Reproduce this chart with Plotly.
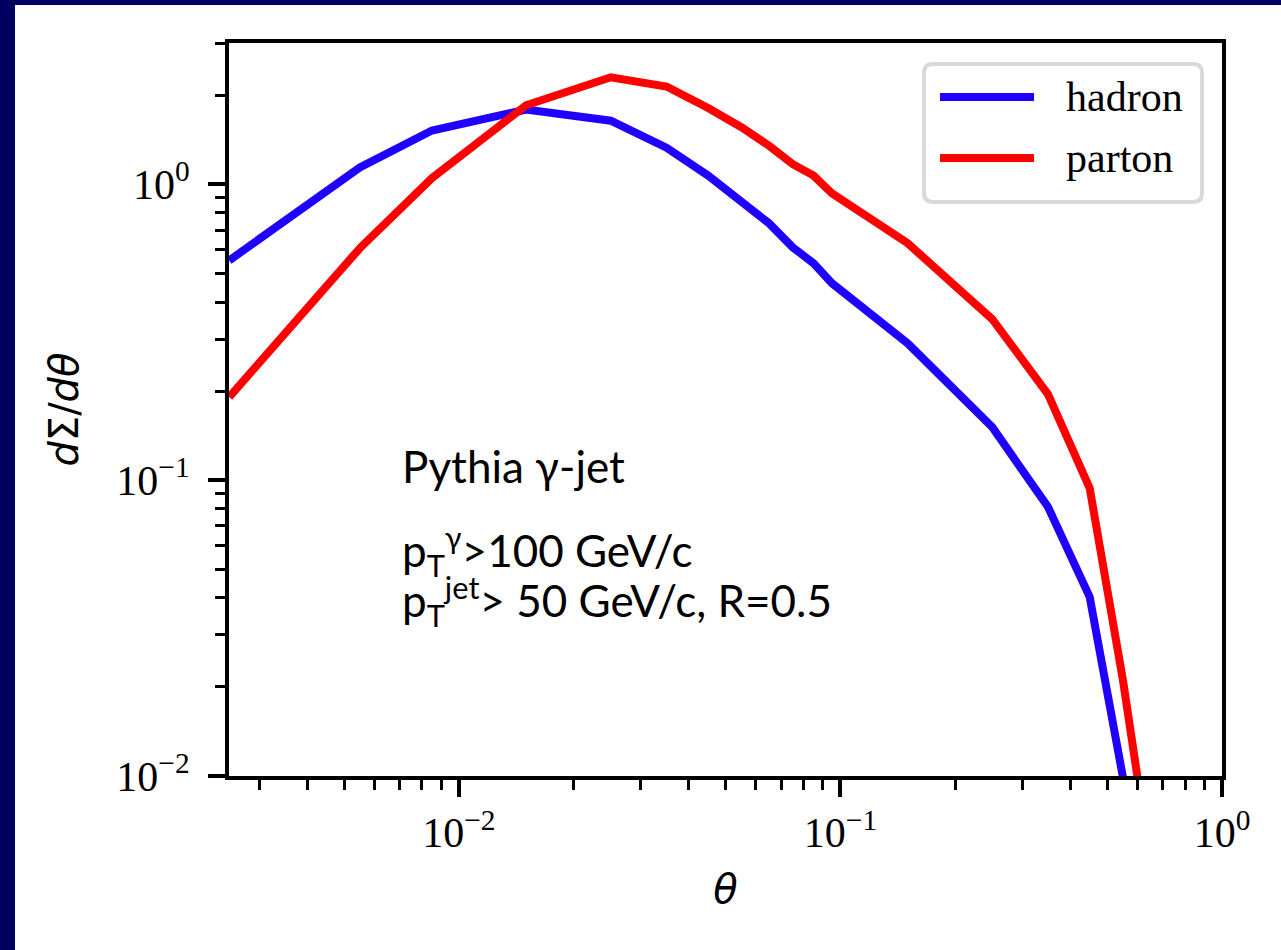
import plotly.graph_objects as go
import math

# ---------------- data ----------------
theta = [0.0025, 0.0055, 0.0085, 0.015, 0.025, 0.035, 0.045, 0.055, 0.065,
         0.075, 0.085, 0.095, 0.15, 0.25, 0.35, 0.45, 0.55, 0.65]
hadron = [0.553, 1.14, 1.52, 1.79, 1.64, 1.33, 1.07, 0.869, 0.738,
          0.612, 0.541, 0.463, 0.290, 0.151, 0.0811, 0.0403, 0.0099, 0.002]
parton = [0.191, 0.608, 1.05, 1.85, 2.30, 2.14, 1.81, 1.56, 1.35,
          1.17, 1.07, 0.932, 0.632, 0.350, 0.195, 0.094, 0.0211, 0.005]
series_names = ["hadron", "parton"]
series_colors = ["#1f00ff", "#ff0000"]

x_major = [0.01, 0.1, 1.0]
x_major_text = ["10<sup>\u22122</sup>", "10<sup>\u22121</sup>", "10<sup>0</sup>"]
y_major = [0.01, 0.1, 1.0]
y_major_text = ["10<sup>\u22122</sup>", "10<sup>\u22121</sup>", "10<sup>0</sup>"]

info_lines = ["Pythia \u03b3-jet",
              "p<sub>T</sub><sup>\u03b3</sup>>100 GeV/c",
              "p<sub>T</sub><sup>jet</sup>> 50 GeV/c, R=0.5"]

# ---------------- layout geometry (pixels) ----------------
W, H = 1281, 950
L, R, T, B = 229, 1222, 43, 776
NAVY = "#00005f"

def px(x):
    return (x - L) / (R - L)

def py(y):
    return (B - y) / (B - T)

x_minor = [k * 10.0 ** e for e in (-3, -2, -1) for k in range(2, 10)]
x_minor = [v for v in x_minor if v > 0.0025]
y_minor = [k * 10.0 ** e for e in (-2, -1, 0) for k in range(2, 10)]
y_minor = [v for v in y_minor if v <= 3.0]

fig = go.Figure()
for name, vals, col in zip(series_names, [hadron, parton], series_colors):
    fig.add_trace(go.Scatter(x=theta, y=vals, mode="lines", name=name,
                             line=dict(color=col, width=8), showlegend=False))

tickfont = dict(family="Liberation Serif, Times New Roman, serif", size=42, color="black")

fig.update_xaxes(type="log", range=[math.log10(0.0025) - 0.0005, 0],
                 showgrid=False, zeroline=False,
                 showline=True, linecolor="black", linewidth=4, mirror=True,
                 ticks="outside", ticklen=17, tickwidth=3.5, tickcolor="black",
                 tickvals=x_major, ticktext=x_major_text, tickfont=tickfont,
                 minor=dict(tickvals=x_minor, ticks="outside", ticklen=10,
                            tickwidth=2.5, tickcolor="black", showgrid=False),
                 title=dict(text="<i>\u03b8</i>", standoff=21,
                            font=dict(family="DejaVu Sans", size=40, color="black")))
fig.update_yaxes(type="log", range=[-2, math.log10(3.0) + 0.0005],
                 showgrid=False, zeroline=False,
                 showline=True, linecolor="black", linewidth=4, mirror=True,
                 ticks="outside", ticklen=17, tickwidth=3.5, tickcolor="black",
                 tickvals=y_major, ticktext=y_major_text, tickfont=tickfont,
                 ticklabelstandoff=10,
                 minor=dict(tickvals=y_minor, ticks="outside", ticklen=10,
                            tickwidth=2.5, tickcolor="black", showgrid=False),
                 title=dict(text="<i>d</i>\u03a3/<i>d\u03b8</i>", standoff=26,
                            font=dict(family="DejaVu Sans", size=40, color="black")))

shapes = []
# slide background strips
shapes.append(dict(type="rect", xref="paper", yref="paper", layer="below",
                   x0=px(0), x1=px(15), y0=py(H), y1=py(0),
                   fillcolor=NAVY, line=dict(width=0)))
shapes.append(dict(type="rect", xref="paper", yref="paper", layer="below",
                   x0=px(0), x1=px(W), y0=py(5), y1=py(0),
                   fillcolor=NAVY, line=dict(width=0)))

# legend box with rounded corners
lx0, lx1, ly0, ly1, rr = 924, 1202, 64, 202, 9
path = (f"M {px(lx0+rr)},{py(ly0)} L {px(lx1-rr)},{py(ly0)} "
        f"Q {px(lx1)},{py(ly0)} {px(lx1)},{py(ly0+rr)} "
        f"L {px(lx1)},{py(ly1-rr)} Q {px(lx1)},{py(ly1)} {px(lx1-rr)},{py(ly1)} "
        f"L {px(lx0+rr)},{py(ly1)} Q {px(lx0)},{py(ly1)} {px(lx0)},{py(ly1-rr)} "
        f"L {px(lx0)},{py(ly0+rr)} Q {px(lx0)},{py(ly0)} {px(lx0+rr)},{py(ly0)} Z")
shapes.append(dict(type="path", xref="paper", yref="paper", path=path,
                   fillcolor="white", line=dict(color="#d9d9d9", width=4)))
legend_rows = [97, 158]
annotations = []
for name, col, yy in zip(series_names, series_colors, legend_rows):
    shapes.append(dict(type="line", xref="paper", yref="paper",
                       x0=px(940), x1=px(1034), y0=py(yy), y1=py(yy),
                       line=dict(color=col, width=8)))
    annotations.append(dict(xref="paper", yref="paper", x=px(1064), y=py(yy),
                            xanchor="left", yanchor="middle", showarrow=False,
                            text=name,
                            font=dict(family="Liberation Serif, Times New Roman, serif",
                                      size=42, color="black")))

info_font = dict(family="Lato, Liberation Sans", size=44, color="black")
for txt, yy in zip(info_lines, [466, 551, 601]):
    annotations.append(dict(xref="paper", yref="paper", x=px(400), y=py(yy),
                            xanchor="left", yanchor="middle", showarrow=False,
                            text=txt, font=info_font))

fig.update_layout(width=W, height=H,
                  margin=dict(l=L, r=W - R, t=T, b=H - B, autoexpand=False),
                  paper_bgcolor="white", plot_bgcolor="white",
                  shapes=shapes, annotations=annotations, showlegend=False)

fig.write_html("out.html",
               config={"displayModeBar": False},
               post_script="document.body.style.margin='0px';"
                           "document.body.style.overflow='hidden';")
